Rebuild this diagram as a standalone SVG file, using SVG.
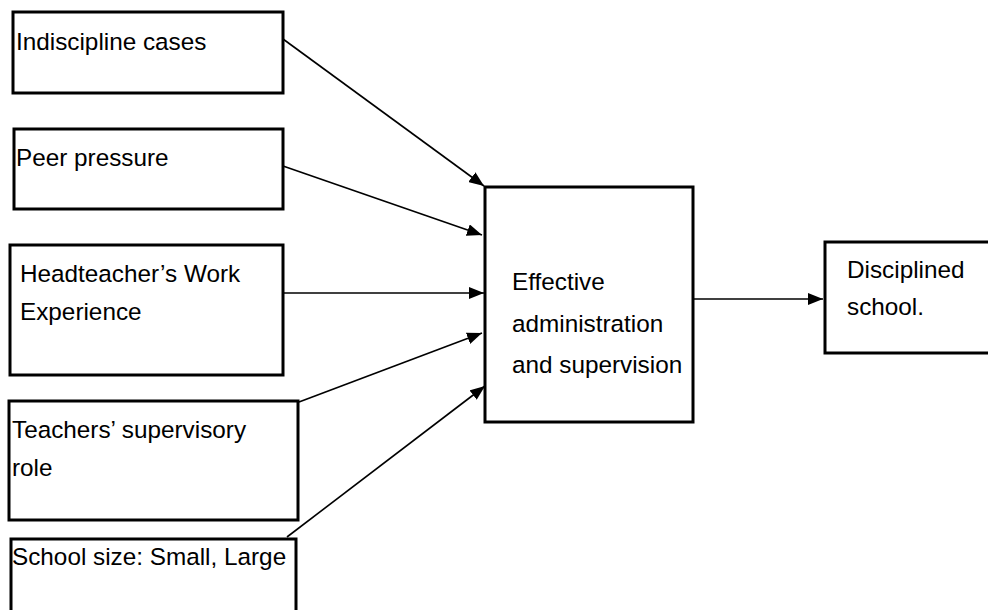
<svg xmlns="http://www.w3.org/2000/svg" width="988" height="610" viewBox="0 0 988 610">
<style>
.box{fill:#fff;stroke:#000;stroke-width:3}
.lbl{font-family:"Liberation Sans",Arial,sans-serif;font-size:24.3px;fill:#000}
.con{stroke:#000;stroke-width:1.6;fill:none;marker-end:url(#ah)}
</style>
<defs>
<marker id="ah" markerUnits="userSpaceOnUse" markerWidth="16" markerHeight="12" refX="15" refY="6" orient="auto">
<path d="M0,0 L15,6 L0,12 z" fill="#000"/>
</marker>
</defs>
<rect width="988" height="610" fill="#fff"/>
<g id="n1"><rect class="box" x="13" y="12" width="270" height="81"/><text class="lbl" x="16" y="50">Indiscipline cases</text></g>
<g id="n2"><rect class="box" x="14" y="129" width="269" height="80"/><text class="lbl" x="16" y="166">Peer pressure</text></g>
<g id="n3"><rect class="box" x="10" y="245" width="273" height="130"/><text class="lbl" x="20" y="282">Headteacher’s Work</text><text class="lbl" x="20" y="320">Experience</text></g>
<g id="n4"><rect class="box" x="9" y="401" width="289" height="119"/><text class="lbl" x="12" y="438">Teachers’ supervisory</text><text class="lbl" x="12" y="476">role</text></g>
<g id="n5"><rect class="box" x="11" y="539" width="285" height="80"/><text class="lbl" x="12" y="565">School size: Small, Large</text></g>
<g id="n6"><rect class="box" x="485" y="187" width="208" height="235"/><text class="lbl" x="512" y="290">Effective</text><text class="lbl" x="512" y="332">administration</text><text class="lbl" x="512" y="373">and supervision</text></g>
<g id="n7"><rect class="box" x="825" y="242" width="175" height="111"/><text class="lbl" x="847" y="278">Disciplined</text><text class="lbl" x="847" y="315">school.</text></g>
<g id="connectors">
<line class="con" x1="283" y1="39" x2="484" y2="186"/>
<line class="con" x1="283" y1="166" x2="482" y2="235"/>
<line class="con" x1="283" y1="293" x2="484" y2="293"/>
<line class="con" x1="299" y1="402" x2="482" y2="333"/>
<line class="con" x1="287" y1="537" x2="485" y2="386"/>
<line class="con" x1="693" y1="299" x2="823" y2="299"/>
</g>
</svg>
